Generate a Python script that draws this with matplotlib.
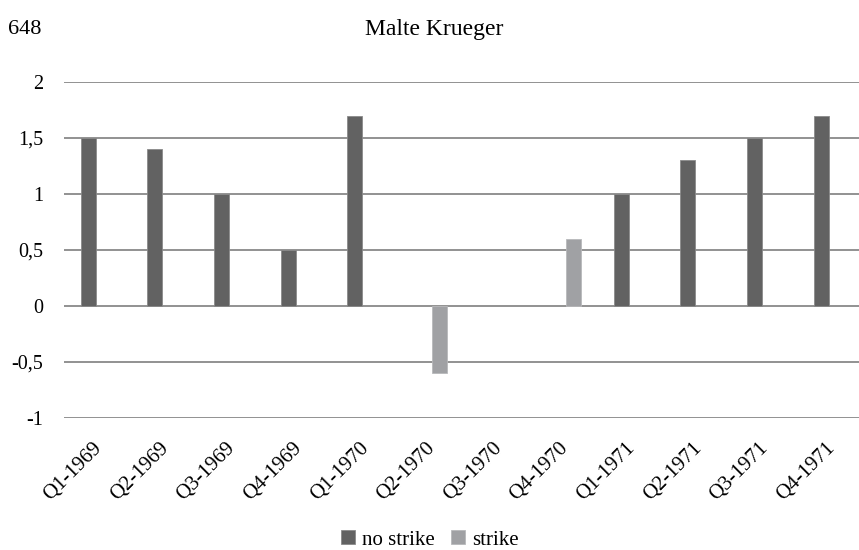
import numpy as np
import matplotlib
matplotlib.use("Agg")
import matplotlib.pyplot as plt
import matplotlib.transforms as mtransforms

plt.rcParams['font.family'] = ['Liberation Serif', 'DejaVu Serif']

quarters = ['Q1-1969', 'Q2-1969', 'Q3-1969', 'Q4-1969', 'Q1-1970', 'Q2-1970',
            'Q3-1970', 'Q4-1970', 'Q1-1971', 'Q2-1971', 'Q3-1971', 'Q4-1971']
no_strike = [1.5, 1.4, 1.0, 0.5, 1.7, np.nan, np.nan, np.nan, 1.0, 1.3, 1.5, 1.7]
strike = [np.nan, np.nan, np.nan, np.nan, np.nan, -0.6, np.nan, 0.6, np.nan, np.nan, np.nan, np.nan]
yticks = [-1, -0.5, 0, 0.5, 1, 1.5, 2]
ylabels = ['-1', '-0,5', '0', '0,5', '1', '1,5', '2']

W, H = 859, 550
fig = plt.figure(figsize=(W / 100, H / 100), dpi=100)
# axes: left 64px, right ~864px (past the edge), y 2 at 82px, -1 at 418px
ax = fig.add_axes([64 / W, 1 - 418 / H, 800 / W, 336 / H])

x = np.arange(len(quarters))
bw = 0.225
ax.bar(x - 0.14, no_strike, bw, color='#626262', edgecolor='#8a8a8a', linewidth=0.6,
       label='no strike', zorder=3)
ax.bar(x + 0.14, strike, bw, color='#a0a1a4', edgecolor='#b8b9bb', linewidth=0.6,
       label='strike', zorder=3)

ax.set_xlim(-0.5, len(quarters) - 0.5)
ax.set_ylim(-1, 2)
ax.set_yticks(yticks)
ax.set_yticklabels(ylabels, fontsize=14.5)
ax.grid(axis='y', color='#7f7f7f', linewidth=1.2, zorder=0)
for s in ax.spines.values():
    s.set_visible(False)
ax.tick_params(axis='both', length=0)
ax.tick_params(axis='y', pad=15)

ax.set_xticks(x)
ax.set_xticklabels(quarters, rotation=45, ha='right', rotation_mode='anchor',
                   fontsize=15)
ax.tick_params(axis='x', pad=15)
# nudge rotated labels a little to the left
shift = mtransforms.ScaledTranslation(-5 / 100, 0, fig.dpi_scale_trans)
for lab in ax.get_xticklabels():
    lab.set_transform(lab.get_transform() + shift)

ax.legend(loc='center', bbox_to_anchor=(430 / W, 1 - 540 / H),
          bbox_transform=fig.transFigure, ncol=2, frameon=False, fontsize=15,
          handlelength=0.65, handleheight=0.65, handletextpad=0.35, columnspacing=0.8)

fig.text(8 / W, 1 - 30 / H, '648', fontsize=16, va='center', ha='left')
fig.text(434 / W, 1 - 30 / H, 'Malte Krueger', fontsize=17, va='center', ha='center')

fig.savefig('out.png', dpi=100)
